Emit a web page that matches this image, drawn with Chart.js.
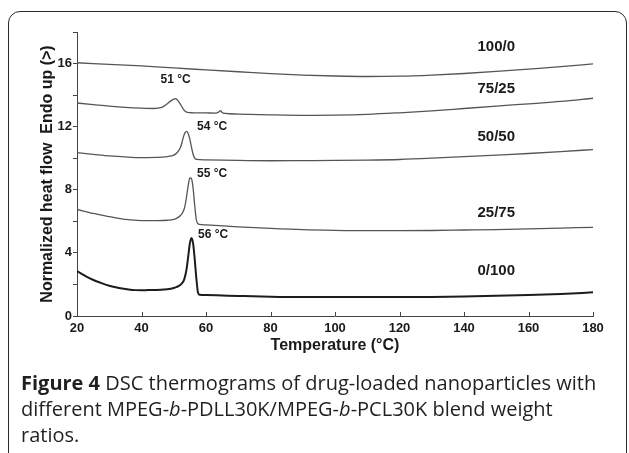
<!DOCTYPE html>
<html>
<head>
<meta charset="utf-8">
<script src="https://cdn.jsdelivr.net/npm/chart.js@4.4.1/dist/chart.umd.min.js"></script>
<style>
html,body{margin:0;padding:0;background:#fff;width:629px;height:453px;overflow:hidden;}
#frame{position:absolute;left:8px;top:11px;width:619px;height:480px;border:1.5px solid #2b2b2b;border-radius:12px;box-sizing:border-box;}
#wrap{position:absolute;left:0;top:0;width:629px;height:370px;}
#caption{position:absolute;left:21px;top:370px;font-family:"Open Sans";font-size:20px;line-height:26px;color:#231f20;white-space:nowrap;}
#caption b{font-weight:700;}
</style>
</head>
<body>
<div id="frame"></div>
<div id="wrap"><canvas id="dscChart" width="629" height="370"></canvas></div>
<div id="caption"><b>Figure 4</b> DSC thermograms of drug-loaded nanoparticles with<br>different MPEG-<i>b</i>-PDLL30K/MPEG-<i>b</i>-PCL30K blend weight<br>ratios.</div>
<script>
// blend ratios (MPEG-b-PDLL30K / MPEG-b-PCL30K)
const ratios = ["100/0", "75/25", "50/50", "25/75", "0/100"];

const temp100_0 = [20,30,40,50,60,70,80,90,100,110,120,130,140,150,160,170,180];
const flow100_0 = [16.05,15.95,15.85,15.72,15.6,15.48,15.36,15.27,15.21,15.18,15.2,15.27,15.37,15.5,15.65,15.8,15.98];

const temp75_25 = [20,25,30,35,40,44,46,47,48,49,50,50.5,51,52,53,54,56,60,63,64,64.5,65,66,70,80,90,100,110,120,130,140,150,160,170,180];
const flow75_25 = [13.5,13.4,13.3,13.22,13.17,13.15,13.2,13.3,13.45,13.62,13.75,13.78,13.72,13.45,13.1,12.92,12.88,12.87,12.86,12.94,13.02,12.9,12.84,12.8,12.75,12.72,12.73,12.78,12.88,13.0,13.15,13.3,13.45,13.6,13.8];

const temp50_50 = [20,25,30,35,40,45,48,50,51,52,52.5,53,53.5,54,54.5,55,55.5,56,56.5,57,60,70,80,90,100,110,120,130,140,150,160,170,180];
const flow50_50 = [10.35,10.25,10.15,10.08,10.04,10.05,10.1,10.2,10.35,10.65,10.95,11.35,11.62,11.7,11.55,11.2,10.7,10.25,10.0,9.93,9.9,9.86,9.84,9.85,9.86,9.88,9.92,10.0,10.1,10.2,10.3,10.42,10.55];

const temp25_75 = [20,25,30,35,40,45,48,50,51,52,53,53.5,54,54.5,55,55.5,56,56.5,57,57.5,58,60,70,80,90,100,110,120,130,140,150,160,170,180];
const flow25_75 = [6.75,6.5,6.3,6.12,6.05,6.05,6.07,6.12,6.2,6.35,6.65,7.0,7.6,8.3,8.75,8.7,8.1,7.0,6.1,5.85,5.8,5.77,5.65,5.55,5.47,5.43,5.41,5.41,5.42,5.45,5.48,5.52,5.57,5.62];

const temp0_100 = [20,22,24,26,28,30,32,34,36,38,40,42,44,46,48,50,51,52,53,53.5,54,54.5,55,55.5,56,56.5,57,57.5,58,60,65,70,80,90,100,110,120,130,140,150,160,170,180];
const flow0_100 = [2.85,2.6,2.38,2.2,2.05,1.92,1.82,1.74,1.68,1.64,1.63,1.64,1.65,1.66,1.7,1.78,1.85,1.97,2.2,2.5,3.0,3.8,4.6,4.95,4.6,3.6,2.4,1.5,1.35,1.33,1.3,1.27,1.22,1.2,1.2,1.2,1.2,1.21,1.24,1.28,1.33,1.4,1.5];

// where the ratio names sit (data units)
const ratioLabelX = [150, 150, 150, 150, 150];
const ratioLabelY = [17.05, 14.4, 11.35, 6.55, 2.88];

// melting peak notes
const peakLabels = ["51 °C", "54 °C", "55 °C", "56 °C"];
const peakLabelX = [50.6, 61.9, 61.9, 62.2];
const peakLabelY = [14.98, 11.98, 9.02, 5.14];

const ink = "#1a1a1a";

function pts(t, v){
    return t.map((d, i) => ({x: d, y: v[i]}));
}

const labelPlugin = {
    id: "dscText",
    afterDatasetsDraw(c){
        const ctx = c.ctx;
        const x = c.scales.x;
        const y = c.scales.y;

        ctx.save();

        // x ticks point inward
        ctx.strokeStyle = "#444";
        ctx.lineWidth = 1;
        x.ticks.forEach(t => {
            const px = Math.round(x.getPixelForValue(t.value)) + 0.5;
            ctx.beginPath();
            ctx.moveTo(px, y.bottom);
            ctx.lineTo(px, y.bottom - 4);
            ctx.stroke();
        });

        ctx.fillStyle = ink;
        ctx.textAlign = "center";
        ctx.textBaseline = "middle";

        ctx.font = "bold 15px 'Liberation Sans'";
        ratios.forEach((r, i) => {
            ctx.fillText(r, x.getPixelForValue(ratioLabelX[i]), y.getPixelForValue(ratioLabelY[i]));
        });

        ctx.font = "bold 12px 'Liberation Sans'";
        peakLabels.forEach((p, i) => {
            ctx.fillText(p, x.getPixelForValue(peakLabelX[i]), y.getPixelForValue(peakLabelY[i]));
        });

        ctx.restore();
    }
};

let chart;

function drawChart(){

    const series = [
        [temp100_0, flow100_0],
        [temp75_25, flow75_25],
        [temp50_50, flow50_50],
        [temp25_75, flow25_75],
        [temp0_100, flow0_100]
    ];

    const datasets = series.map(([t, v], i) => ({
        label: ratios[i],
        data: pts(t, v),
        borderColor: i === 4 ? "#1c1c1c" : "#555",
        borderWidth: i === 4 ? 2 : 1.3,
        pointRadius: 0,
        fill: false,
        cubicInterpolationMode: "monotone"
    }));

    const tickFont = {family: "Liberation Sans", weight: "bold", size: 13};
    const titleFont = {family: "Liberation Sans", weight: "bold", size: 16};

    if(chart)
        chart.destroy();

    chart = new Chart(
        document.getElementById("dscChart"),
        {
            type: "line",
            data: {datasets},
            options: {
                responsive: false,
                animation: false,
                devicePixelRatio: 1,
                layout: {padding: {top: 32, right: 36, left: 0, bottom: 0}},
                plugins: {legend: {display: false}, tooltip: {enabled: false}},
                scales: {
                    x: {
                        type: "linear",
                        min: 20,
                        max: 180,
                        ticks: {stepSize: 20, font: tickFont, color: ink, padding: 5, maxRotation: 0},
                        grid: {drawOnChartArea: false, drawTicks: false},
                        border: {color: "#444", width: 1},
                        title: {display: true, text: "Temperature (°C)", font: titleFont, color: ink, padding: {top: 0, bottom: 15}},
                        afterFit(s){ s.height = 54; }
                    },
                    y: {
                        min: 0,
                        max: 18,
                        ticks: {
                            stepSize: 2,
                            font: tickFont,
                            color: ink,
                            padding: 1,
                            callback: v => v % 4 === 0 ? v : ""
                        },
                        grid: {drawOnChartArea: false, drawTicks: true, tickLength: 4, color: "#444"},
                        border: {color: "#444", width: 1},
                        title: {display: true, text: "Normalized heat flow  Endo up (>)", font: titleFont, color: ink, padding: {top: 38, bottom: 0}},
                        afterFit(s){ s.width = 77; }
                    }
                }
            },
            plugins: [labelPlugin]
        }
    );
}

drawChart();
</script>
</body>
</html>
